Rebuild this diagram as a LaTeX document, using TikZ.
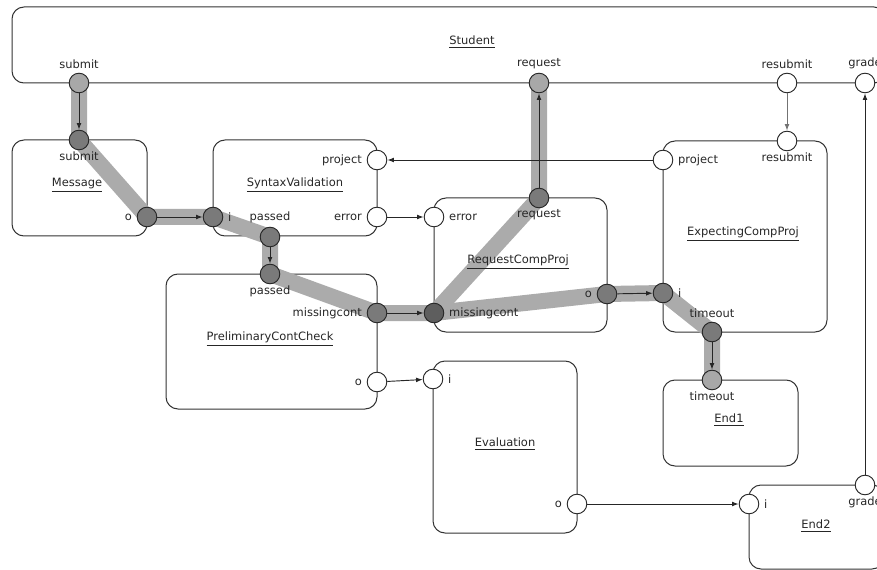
\documentclass[tikz,border=0pt]{standalone}
\usepackage{fontspec}
\setmainfont{DejaVu Sans}
\usetikzlibrary{arrows.meta,fit,positioning}
\pgfdeclarelayer{boxes}
\pgfdeclarelayer{trace}
\pgfsetlayers{boxes,trace,main}

\begin{document}
\begin{tikzpicture}[x=0.75pt,y=-0.75pt,
  font=\fontsize{8.6}{10}\selectfont,
  box/.style={draw=black!80, line width=0.75pt, rounded corners=9pt, inner sep=0pt},
  title/.style={inner sep=1pt, text=black!85},
  port/.style={circle, draw=black!85, line width=0.7pt, fill=white, minimum size=14.7pt, inner sep=0pt},
  hlone/.style={port, fill=black!34},
  hltwo/.style={port, fill=black!52},
  hlthree/.style={port, fill=black!63},
  lbl/.style={inner sep=1.5pt, text=black!85},
  band/.style={line width=12pt, draw=black!33, line join=round},
  flow/.style={draw=black!85, line width=0.7pt, -{Latex[length=5pt,width=3.6pt]}},
]
\useasboundingbox (0,0) rectangle (877,570);
\clip (0,0) rectangle (877,570);

% ---------- component boxes ----------
\begin{pgfonlayer}{boxes}
\node[box, fit={(12,7) (886,83)}]    (student) {};
\node[box, fit={(12,140) (147,236)}] (message) {};
\node[box, fit={(213,140) (377,236)}] (syntax) {};
\node[box, fit={(166,274) (377,409)}] (prelim) {};
\node[box, fit={(434,198) (607,332)}] (reqcomp) {};
\node[box, fit={(663,141) (827,332)}] (expect) {};
\node[box, fit={(663,380) (798,466)}] (endone) {};
\node[box, fit={(433,361) (577,533)}] (eval) {};
\node[box, fit={(749,485) (884,569)}] (endtwo) {};
\end{pgfonlayer}

% ---------- titles ----------
\node[title] (tstudent) at (472,42)  {\underline{Student}};
\node[title] (tmessage) at (77,185)  {\underline{Message}};
\node[title] (tsyntax)  at (295,185) {\underline{SyntaxValidation}};
\node[title] (tprelim)  at (270,339) {\underline{PreliminaryContCheck}};
\node[title] (treq)     at (518,262) {\underline{RequestCompProj}};
\node[title] (texpect)  at (743,234) {\underline{ExpectingCompProj}};
\node[title] (tendone)  at (729,420) {\underline{End1}};
\node[title] (teval)    at (505,444) {\underline{Evaluation}};
\node[title] (tendtwo)  at (816,526) {\underline{End2}};

% ---------- ports ----------
\node[hlone]   (ssub)  at (79,83)   {};
\node[hlone]   (sreq)  at (539,83)  {};
\node[port]    (sres)  at (787,83)  {};
\node[port]    (sgrd)  at (865,83)  {};
\node[hltwo]   (msub)  at (79,140)  {};
\node[hltwo]   (mo)    at (147,217) {};
\node[port]    (svproj) at (377,160) {};
\node[port]    (sverr) at (377,217) {};
\node[hltwo]   (svi)   at (213,217) {};
\node[hltwo]   (svpas) at (270,237) {};
\node[hltwo]   (ppas)  at (270,274) {};
\node[hltwo]   (pmis)  at (377,313) {};
\node[port]    (po)    at (377,382) {};
\node[port]    (rerr)  at (434,217) {};
\node[hltwo]   (rreq)  at (539,198) {};
\node[hlthree] (rmis)  at (434,313) {};
\node[hltwo]   (ro)    at (607,294) {};
\node[port]    (eproj) at (663,160) {};
\node[port]    (eres)  at (787,141) {};
\node[hltwo]   (ei)    at (663,293) {};
\node[hltwo]   (eto)   at (712,332) {};
\node[hlone]   (eoto)  at (712,380) {};
\node[port]    (evi)   at (433,379) {};
\node[port]    (evo)   at (577,504) {};
\node[port]    (eti)   at (749,504) {};
\node[port]    (etgrd) at (865,485) {};

% ---------- port labels ----------
\node[lbl, above=1.5pt of ssub]  (lssub)  {submit};
\node[lbl, above=1.5pt of sreq]  (lsreq)  {request};
\node[lbl, above=1.5pt of sres]  (lsres)  {resubmit};
\node[lbl, above=1.5pt of sgrd]  (lsgrd)  {grade};
\node[lbl, below=-0.5pt of msub] (lmsub)  {submit};
\node[lbl, left=2pt of mo]       (lmo)    {o};
\node[lbl, left=2pt of svproj]   (lsvproj) {project};
\node[lbl, left=2pt of sverr]    (lsverr) {error};
\node[lbl, right=2pt of svi]     (lsvi)   {i};
\node[lbl, above=1.5pt of svpas] (lsvpas) {passed};
\node[lbl, below=-0.5pt of ppas] (lppas)  {passed};
\node[lbl, left=2pt of pmis]     (lpmis)  {missingcont};
\node[lbl, left=2pt of po]       (lpo)    {o};
\node[lbl, right=2pt of rerr]    (lrerr)  {error};
\node[lbl, below=-0.5pt of rreq] (lrreq)  {request};
\node[lbl, right=2pt of rmis]    (lrmis)  {missingcont};
\node[lbl, left=2pt of ro]       (lro)    {o};
\node[lbl, right=2pt of eproj]   (leproj) {project};
\node[lbl, below=-0.5pt of eres] (leres)  {resubmit};
\node[lbl, right=2pt of ei]      (lei)    {i};
\node[lbl, above=1.5pt of eto]   (leto)   {timeout};
\node[lbl, below=-0.5pt of eoto] (leoto)  {timeout};
\node[lbl, right=2pt of evi]     (levi)   {i};
\node[lbl, left=2pt of evo]      (levo)   {o};
\node[lbl, right=2pt of eti]     (leti)   {i};
\node[lbl, below=-0.5pt of etgrd] (letgrd) {grade};

% ---------- highlighted trace ----------
\begin{pgfonlayer}{trace}
\draw[band] (ssub.center) -- (msub.center) -- (mo.center) -- (svi.center)
  -- (svpas.center) -- (ppas.center) -- (pmis.center) -- (rmis.center)
  -- (rreq.center) -- (sreq.center);
\draw[band] (rmis.center) -- (ro.center) -- (ei.center) -- (eto.center)
  -- (eoto.center);
\end{pgfonlayer}

% ---------- connectors ----------
\draw[flow] (ssub) -- (msub);
\draw[flow] (mo) -- (svi);
\draw[flow] (svpas) -- (ppas);
\draw[flow] (sverr) -- (rerr);
\draw[flow] (eproj) -- (svproj);
\draw[flow] (pmis) -- (rmis);
\draw[flow] (rreq) -- (sreq);
\draw[flow] (ro) -- (ei);
\draw[flow] (eto) -- (eoto);
\draw[flow] (po) -- (evi);
\draw[flow] (evo) -- (eti);
\draw[flow, draw=black!55] (sres) -- (eres);
\draw[flow] (etgrd) -- (sgrd);
\end{tikzpicture}
\end{document}
